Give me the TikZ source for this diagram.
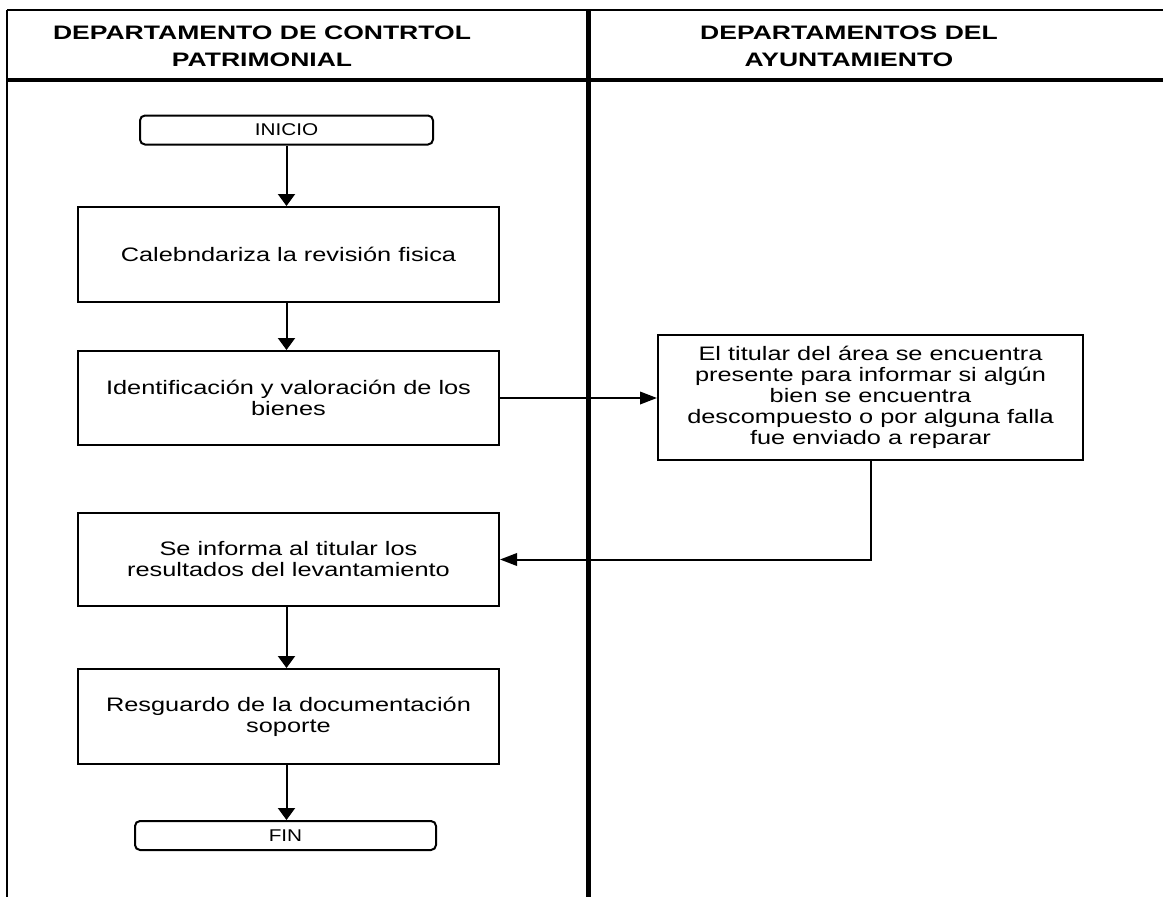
\documentclass[tikz,border=0pt]{standalone}
\usepackage{fontspec}
\setmainfont{Liberation Sans}[FakeStretch=1.3]
\newfontfamily\hdrfont{Liberation Sans}[FakeStretch=1.36]
\newfontfamily\termfont{Liberation Sans}[FakeStretch=1.22]
\usetikzlibrary{arrows.meta}
\begin{document}
\begin{tikzpicture}[x=1pt,y=-1pt,
  stepbox/.style={draw, line width=2pt, minimum width=421pt, minimum height=94pt,
    align=center, inner sep=0pt, font=\fontsize{19.5}{21}\selectfont},
  termbox/.style={draw, line width=2pt, rounded corners=5pt, minimum height=29pt,
    align=center, inner sep=0pt, font=\termfont\fontsize{17}{19}\selectfont},
  hdr/.style={align=center, inner sep=0pt, font=\hdrfont\fontsize{19.5}{26.5}\selectfont\bfseries},
  varr/.style={line width=2pt, -{Triangle[length=12pt,width=17pt]}},
  harr/.style={line width=2pt, -{Triangle[length=17pt,width=12.5pt]}},
  thinrule/.style={line width=2pt},
  leftrule/.style={line width=2.6pt},
  thickrule/.style={line width=3.8pt},
  lanerule/.style={line width=5pt}]
\useasboundingbox (0,0) rectangle (1163,897);
\fill[white] (0,0) rectangle (1163,897);
% lanes
\coordinate (tl) at (7,10);
\coordinate (tr) at (1163,10);
\coordinate (bl) at (7,897);
\coordinate (hl) at (7,80);
\coordinate (hr) at (1163,80);
\coordinate (mt) at (588,10);
\coordinate (mb) at (588,897);
\draw[thinrule] (tl) -- (tr);
\draw[leftrule] (tl) -- (bl);
\draw[thickrule] (hl) -- (hr);
\draw[lanerule] (mt) -- (mb);
% headers
\node[hdr] (h1) at (262,46.5) {DEPARTAMENTO DE CONTRTOL\\PATRIMONIAL};
\node[hdr] (h2) at (849,46.5) {DEPARTAMENTOS DEL\\AYUNTAMIENTO};
% nodes
\node[termbox, minimum width=293pt] (ini) at (286.5,130) {INICIO};
\node[stepbox, minimum height=95pt] (b1) at (288.5,254.5) {Calebndariza la revisión fisica};
\node[stepbox] (b2) at (288.5,398) {Identificación y valoración de los\\bienes};
\node[stepbox, minimum width=425pt, minimum height=125pt] (rb) at (870.5,397.5)
  {El titular del área se encuentra\\presente para informar si algún\\bien se encuentra\\descompuesto o por alguna falla\\fue enviado a reparar};
\node[stepbox, minimum height=93pt] (b3) at (288.5,559.5) {Se informa al titular los\\resultados del levantamiento};
\node[stepbox, minimum height=95pt] (b4) at (288.5,716.5) {Resguardo de la documentación\\soporte};
\node[termbox, minimum width=301pt] (fin) at (285.5,835.5) {FIN};
% connectors
\coordinate (rbout) at (871,460);
\coordinate (bend) at (871,559.5);
\draw[varr] (ini.south) -- (ini.south |- b1.north);
\draw[varr] (b1.south -| ini.south) -- (ini.south |- b2.north);
\draw[harr] (b2.east) -- (rb.west |- b2.east);
\draw[harr] (rb.south -| rbout) -- (bend) -- (b3.east);
\draw[varr] (b3.south -| ini.south) -- (ini.south |- b4.north);
\draw[varr] (b4.south -| ini.south) -- (ini.south |- fin.north);
\end{tikzpicture}
\end{document}
